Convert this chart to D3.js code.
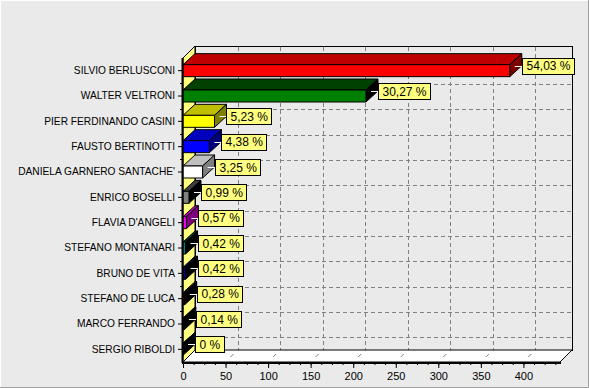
<!DOCTYPE html>
<html>
<head>
<meta charset="utf-8">
<script src="https://cdn.jsdelivr.net/npm/d3@7"></script>
<style>
  body { margin: 0; background: #eaeaea; }
  svg { display: block; font-family: "Liberation Sans", Arial, sans-serif; }
</style>
</head>
<body>
<div id="vis"></div>
<script>
const FRAME_WIDTH = 589;
const FRAME_HEIGHT = 388;

// front plane of the 3d box
const PLOT = {left: 183, right: 560, top: 58, bottom: 362};
const WALL_DX = 12, WALL_DY = -12;   // depth of walls
const BAR_DX = 12, BAR_DY = -11;     // depth of bars
const BAR_HEIGHT = 12;

// data
const CANDIDATES = ['SILVIO BERLUSCONI', 'WALTER VELTRONI', 'PIER FERDINANDO CASINI',
  'FAUSTO BERTINOTTI', "DANIELA GARNERO SANTACHE'", 'ENRICO BOSELLI', "FLAVIA D'ANGELI",
  'STEFANO MONTANARI', 'BRUNO DE VITA', 'STEFANO DE LUCA', 'MARCO FERRANDO', 'SERGIO RIBOLDI'];
const VOTES = [384, 215, 37, 31, 23, 7, 4, 3, 3, 2, 1, 0];
const PERCENT_LABELS = ['54,03 %', '30,27 %', '5,23 %', '4,38 %', '3,25 %', '0,99 %',
  '0,57 %', '0,42 %', '0,42 %', '0,28 %', '0,14 %', '0 %'];
const BAR_COLORS = ['#ff0000', '#008000', '#ffff00', '#0000ff', '#ffffff', '#808080',
  '#ff00ff', '#008080', '#000080', '#800000', '#008000', '#000000'];
const X_TICKS = [0, 50, 100, 150, 200, 250, 300, 350, 400];
const X_MAX = 443;

const SVG = d3.select('#vis')
  .append('svg')
    .attr('width', FRAME_WIDTH)
    .attr('height', FRAME_HEIGHT);

const X_SCALE = d3.scaleLinear().domain([0, X_MAX]).range([PLOT.left, PLOT.right]);
const Y_SCALE = d3.scaleBand().domain(CANDIDATES).range([PLOT.top, PLOT.bottom]).padding(0);

// darker faces like the old 3d charts: top -0x40, side -0x80
function shade(col, amt) {
  const c = d3.rgb(col);
  return d3.rgb(Math.max(0, c.r - amt), Math.max(0, c.g - amt), Math.max(0, c.b - amt)).formatHex();
}
function poly(pts) { return 'M' + pts.map(p => p.join(',')).join('L') + 'Z'; }

// panel bevel
SVG.append('rect').attr('width', FRAME_WIDTH).attr('height', FRAME_HEIGHT).attr('fill', '#eaeaea');
SVG.append('path').attr('d', `M0.5,${FRAME_HEIGHT - 1}V0.5H${FRAME_WIDTH - 1}`)
  .attr('fill', 'none').attr('stroke', '#ffffff');
SVG.append('path').attr('d', `M${FRAME_WIDTH - 0.5},0V${FRAME_HEIGHT - 0.5}H0`)
  .attr('fill', 'none').attr('stroke', '#a0a0a0');

const backL = PLOT.left + WALL_DX, backR = PLOT.right + WALL_DX;
const backT = PLOT.top + WALL_DY, backB = PLOT.bottom + WALL_DY;

// back wall
SVG.append('rect')
  .attr('x', backL + 0.5).attr('y', backT + 0.5)
  .attr('width', backR - backL).attr('height', backB - backT)
  .attr('fill', '#eaeaea').attr('stroke', '#000');

// grid on back wall
const grid = SVG.append('g').attr('stroke', '#808080').attr('stroke-dasharray', '4,3');
grid.selectAll('line.v')
  .data(X_TICKS.filter(d => d > 0))
  .enter().append('line')
    .attr('x1', d => Math.round(X_SCALE(d) + WALL_DX) + 0.5)
    .attr('x2', d => Math.round(X_SCALE(d) + WALL_DX) + 0.5)
    .attr('y1', backT + 1).attr('y2', backB);
grid.selectAll('line.h')
  .data(CANDIDATES)
  .enter().append('line')
    .attr('x1', backL + 1).attr('x2', backR)
    .attr('y1', d => Math.round(Y_SCALE(d) + Y_SCALE.bandwidth() / 2 + WALL_DY) + 0.5)
    .attr('y2', d => Math.round(Y_SCALE(d) + Y_SCALE.bandwidth() / 2 + WALL_DY) + 0.5);

// floor
SVG.append('path')
  .attr('d', poly([[PLOT.left, PLOT.bottom], [PLOT.right, PLOT.bottom], [backR, backB], [backL, backB]]))
  .attr('fill', '#ffffff').attr('stroke', '#000');
SVG.append('g').attr('stroke', '#808080')
  .selectAll('line')
  .data(X_TICKS.filter(d => d > 0))
  .enter().append('line')
    .attr('x1', d => X_SCALE(d) + 8).attr('y1', PLOT.bottom - 8)
    .attr('x2', d => X_SCALE(d) + 5).attr('y2', PLOT.bottom - 5);

// left wall
SVG.append('path')
  .attr('d', poly([[PLOT.left, PLOT.top], [backL, backT], [backL, backB], [PLOT.left, PLOT.bottom]]))
  .attr('fill', '#ffff80').attr('stroke', '#000');

// bars
const bars = SVG.selectAll('.bar')
  .data(CANDIDATES)
  .enter().append('g')
    .attr('class', 'bar')
    .attr('stroke', '#000').attr('stroke-linejoin', 'round');

bars.each(function(d, i) {
  const g = d3.select(this);
  const cy = Y_SCALE(d) + Y_SCALE.bandwidth() / 2;
  const x0 = X_SCALE(0), x1 = X_SCALE(VOTES[i]);
  const y0 = cy - BAR_HEIGHT / 2, y1 = cy + BAR_HEIGHT / 2;
  g.append('path')   // top
    .attr('d', poly([[x0, y0], [x1, y0], [x1 + BAR_DX, y0 + BAR_DY], [x0 + BAR_DX, y0 + BAR_DY]]))
    .attr('fill', shade(BAR_COLORS[i], 0x40));
  g.append('path')   // side
    .attr('d', poly([[x1, y0], [x1 + BAR_DX, y0 + BAR_DY], [x1 + BAR_DX, y1 + BAR_DY], [x1, y1]]))
    .attr('fill', shade(BAR_COLORS[i], 0x80));
  g.append('path')   // front
    .attr('d', poly([[x0, y0], [x1, y0], [x1, y1], [x0, y1]]))
    .attr('fill', BAR_COLORS[i]);
});

// axes
const xAxis = SVG.append('g')
  .attr('transform', `translate(0,${PLOT.bottom})`)
  .call(d3.axisBottom(X_SCALE).tickValues(X_TICKS).tickSize(6).tickSizeOuter(0))
  .attr('font-size', '11px').attr('font-family', null);
xAxis.select('.domain').attr('stroke-width', 2).attr('d', `M${PLOT.left - 1},1H${PLOT.right + 1}`);
xAxis.selectAll('text').attr('fill', '#000').attr('dy', '0.85em');

SVG.append('g')
  .attr('transform', `translate(0,${PLOT.bottom})`)
  .call(d3.axisBottom(X_SCALE).tickValues(d3.range(0, X_MAX, 12.5)).tickSize(3).tickFormat(''))
  .select('.domain').remove();

const yAxis = SVG.append('g')
  .attr('transform', `translate(${PLOT.left},0)`)
  .call(d3.axisLeft(Y_SCALE).tickSize(5).tickSizeOuter(0).tickPadding(3))
  .attr('font-size', '10.2px').attr('font-family', null);
yAxis.select('.domain').attr('stroke-width', 2).attr('d', `M-0.5,${PLOT.top}V${PLOT.bottom + 1}`);
yAxis.selectAll('text').attr('fill', '#000');

SVG.append('g').attr('stroke', '#000')
  .selectAll('line')
  .data(d3.range(1, CANDIDATES.length).map(i => PLOT.top + i * Y_SCALE.step()))
  .enter().append('line')
    .attr('x1', PLOT.left - 3).attr('x2', PLOT.left)
    .attr('y1', d => Math.round(d) + 0.5).attr('y2', d => Math.round(d) + 0.5);

// value marks
const marks = SVG.selectAll('.mark')
  .data(CANDIDATES)
  .enter().append('g')
    .attr('class', 'mark');

marks.each(function(d, i) {
  const g = d3.select(this);
  const cy = Y_SCALE(d) + Y_SCALE.bandwidth() / 2 - 5;
  const xEnd = X_SCALE(VOTES[i]);
  const bx = Math.round(xEnd + 12) + 0.5;
  g.append('line')
    .attr('x1', xEnd + 5).attr('x2', bx)
    .attr('y1', Math.round(cy) + 0.5).attr('y2', Math.round(cy) + 0.5)
    .attr('stroke', '#fff');
  const rect = g.append('rect')
    .attr('x', bx).attr('y', Math.round(cy - 8) + 0.5)
    .attr('height', 16)
    .attr('fill', '#ffff80').attr('stroke', '#000');
  const t = g.append('text')
    .attr('x', bx + 4).attr('y', cy + 4.5)
    .attr('font-size', '12px')
    .text(PERCENT_LABELS[i]);
  rect.attr('width', Math.round(t.node().getComputedTextLength()) + 8);
});
</script>
</body>
</html>
